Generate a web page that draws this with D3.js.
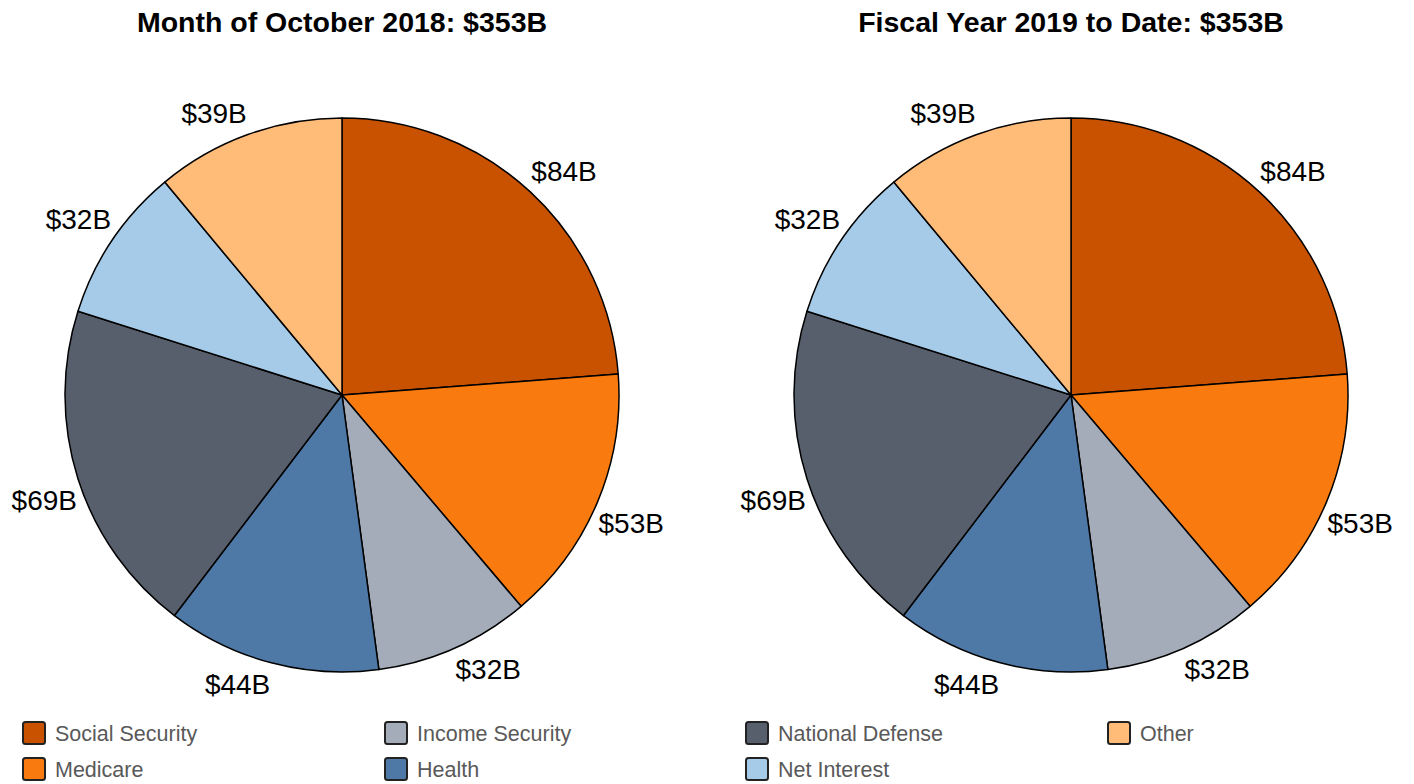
<html>
  <head>
    <script src="https://cdn.jsdelivr.net/npm/d3@7"></script>
    <style>
      body { margin: 0; background: #ffffff; }
      text { font-family: "Liberation Sans", Arial, sans-serif; }
    </style>
  </head>
  <body>
    <svg width="1414" height="784" id="mainsvg"></svg>
    <script>
        // data
        const categories = ['Social Security', 'Medicare', 'Income Security', 'Health', 'National Defense', 'Net Interest', 'Other'];
        const monthValues = [84, 53, 32, 44, 69, 32, 39];
        const fytdValues = [84, 53, 32, 44, 69, 32, 39];
        const titles = ['Month of October 2018: $353B', 'Fiscal Year 2019 to Date: $353B'];
        const colors = ['#c85200', '#f97a0e', '#a3acb8', '#4e79a7', '#575f6d', '#a6cbe8', '#ffbb78'];

        const svg = d3.select('#mainsvg');
        const width = +svg.attr('width');
        const radius = 277;
        const centers = [342, 1071];
        const cy = 395;

        const pie = d3.pie().sort(null).value(d => d.value);
        const arc = d3.arc().innerRadius(0).outerRadius(radius);

        const renderPie = function(values, cx, title){
            const data = categories.map((c, i) => ({name: c, value: values[i], color: colors[i]}));

            svg.append('text')
            .attr('x', cx)
            .attr('y', 32)
            .attr('text-anchor', 'middle')
            .attr('font-size', '28.5px')
            .attr('font-weight', 'bold')
            .attr('fill', '#000')
            .text(title);

            const g = svg.append('g')
            .attr('transform', `translate(${cx}, ${cy})`);

            const arcs = pie(data);

            g.selectAll('path').data(arcs).enter().append('path')
            .attr('d', arc)
            .attr('fill', d => d.data.color)
            .attr('stroke', '#000')
            .attr('stroke-width', 1.5)
            .attr('stroke-linejoin', 'round');

            // labels sit just outside the rim, pushed out by half their box
            const labels = g.selectAll('.slice_label').data(arcs).enter().append('text')
            .attr('class', 'slice_label')
            .attr('font-size', '28px')
            .attr('fill', '#000')
            .attr('text-anchor', 'middle')
            .attr('dy', '0.35em')
            .text(d => '$' + d.data.value + 'B');

            labels.each(function(d){
                const w = this.getComputedTextLength();
                const a = (d.startAngle + d.endAngle) / 2;
                const ex = Math.sin(a) * radius;
                const ey = -Math.cos(a) * radius;
                const sx = ex < 0 ? -1 : 1;
                const sy = ey < 0 ? -1 : 1;
                d3.select(this)
                .attr('x', ex + sx * (w / 2 + 1))
                .attr('y', ey + sy * 21);
            });
        };

        renderPie(monthValues, centers[0], titles[0]);
        renderPie(fytdValues, centers[1], titles[1]);

        // legend, filled column by column
        const colX = [22, 384, 745, 1107];
        const rowY = [721, 757];
        const legend = svg.selectAll('.legend').data(categories).enter().append('g')
        .attr('class', 'legend')
        .attr('transform', (d, i) => `translate(${colX[Math.floor(i / 2)]}, ${rowY[i % 2]})`);

        legend.append('rect')
        .attr('x', 1)
        .attr('y', 1)
        .attr('width', 22)
        .attr('height', 22)
        .attr('rx', 2.5)
        .attr('fill', (d, i) => colors[i])
        .attr('stroke', '#222')
        .attr('stroke-width', 2);

        legend.append('text')
        .attr('x', 33)
        .attr('y', 12)
        .attr('dy', '0.36em')
        .attr('font-size', '21.5px')
        .attr('fill', '#595959')
        .text(d => d);
    </script>
  </body>
</html>
